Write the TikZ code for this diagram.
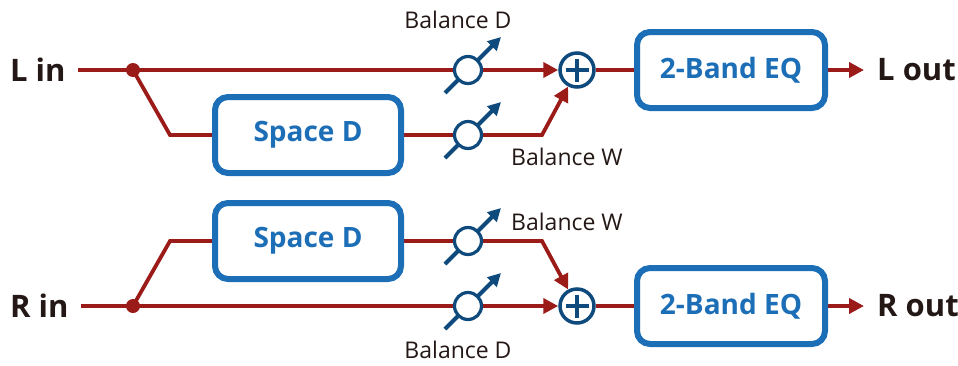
\documentclass[tikz,border=0pt]{standalone}
\usepackage{fontspec}
\setmainfont{Open Sans}
\usetikzlibrary{arrows.meta,backgrounds}
\definecolor{sig}{HTML}{9B1B18}
\definecolor{boxblue}{HTML}{1C6EB6}
\definecolor{knobc}{HTML}{0E4A7C}
\definecolor{ink}{HTML}{231815}
\begin{document}
\begin{tikzpicture}[x=1pt,y=-1pt,
  sigline/.style={draw=sig,line width=3.8pt},
  sigarrow/.style={sigline,-{Triangle[length=15pt,width=15pt]}},
  fxbox/.style={draw=boxblue,line width=6pt,rounded corners=13pt,fill=white,text=boxblue,
    font=\bfseries\fontsize{28}{32}\selectfont,minimum width=186pt,minimum height=76pt,inner sep=0pt},
  knob/.style={circle,draw=knobc,line width=3.2pt,fill=white,minimum size=27pt,inner sep=0pt},
  knobarrow/.style={draw=knobc,line width=4pt,-{Triangle[length=13pt,width=13pt]}},
  sumnode/.style={circle,draw=knobc,line width=3.5pt,fill=white,minimum size=34pt,inner sep=0pt},
  plusline/.style={draw=knobc,line width=3.5pt},
  junction/.style={circle,fill=sig,minimum size=14pt,inner sep=0pt},
  io/.style={text=ink,font=\bfseries\fontsize{31}{36}\selectfont,inner sep=0pt},
  lbl/.style={text=ink,font=\fontsize{23}{26}\selectfont,inner sep=0pt}]
\useasboundingbox (0,0) rectangle (958,365);

% ---- L channel ----
\node[io,anchor=west] (lin) at (10,70) {L in};
\node[junction] (jL) at (133,70) {};
\coordinate (bL1) at (170,135);
\node[fxbox] (spL) at (308,135) {Space D};
\node[knob] (k1) at (468,70) {};
\node[knob] (k2) at (468,135) {};
\coordinate (bL2) at (542,135);
\node[sumnode] (s1) at (577,70) {};
\node[fxbox,minimum width=188pt] (eqL) at (731,70) {2-Band EQ};
\node[io,anchor=west] (lout) at (877,70) {L out};
\node[lbl] (lbD1) at (458,20) {Balance D};
\node[lbl] (lbW1) at (567,157) {Balance W};

% ---- R channel ----
\node[io,anchor=west] (rin) at (10,306) {R in};
\node[junction] (jR) at (133,306) {};
\coordinate (bR1) at (170,241);
\node[fxbox] (spR) at (308,241) {Space D};
\node[knob] (k3) at (468,241) {};
\node[knob] (k4) at (468,306) {};
\coordinate (bR2) at (542,241);
\node[sumnode] (s2) at (577,306) {};
\node[fxbox,minimum width=188pt] (eqR) at (731,306) {2-Band EQ};
\node[io,anchor=west] (rout) at (877,306) {R out};
\node[lbl] (lbW2) at (567,222) {Balance W};
\node[lbl] (lbD2) at (458,350) {Balance D};

% plus signs
\foreach \s in {s1,s2}{
  \draw[plusline] ([xshift=-11.5pt]\s.center) -- ([xshift=11.5pt]\s.center);
  \draw[plusline] ([yshift=-11.5pt]\s.center) -- ([yshift=11.5pt]\s.center);
}

\begin{scope}[on background layer]
  % L
  \draw[sigline] ([xshift=12pt]lin.east) -- (jL.center) -- (k1);
  \draw[sigarrow] (k1) -- (s1);
  \draw[sigline] (jL.center) -- (bL1) -- (spL.west);
  \draw[sigline] (spL.east) -- (k2);
  \draw[sigarrow] (k2) -- (bL2) -- (s1);
  \draw[sigline] (s1) -- (eqL);
  \draw[sigarrow] (eqL.east) -- ([xshift=-13pt]lout.west);
  % R
  \draw[sigline] ([xshift=12pt]rin.east) -- (jR.center) -- (k4);
  \draw[sigarrow] (k4) -- (s2);
  \draw[sigline] (jR.center) -- (bR1) -- (spR.west);
  \draw[sigline] (spR.east) -- (k3);
  \draw[sigarrow] (k3) -- (bR2) -- (s2);
  \draw[sigline] (s2) -- (eqR);
  \draw[sigarrow] (eqR.east) -- ([xshift=-13pt]rout.west);
  % knob arrows
  \foreach \k in {k1,k2,k3,k4}{
    \draw[knobarrow] ([shift={(-23,23)}]\k.center) -- ([shift={(33,-33)}]\k.center);
  }
\end{scope}
\end{tikzpicture}
\end{document}
